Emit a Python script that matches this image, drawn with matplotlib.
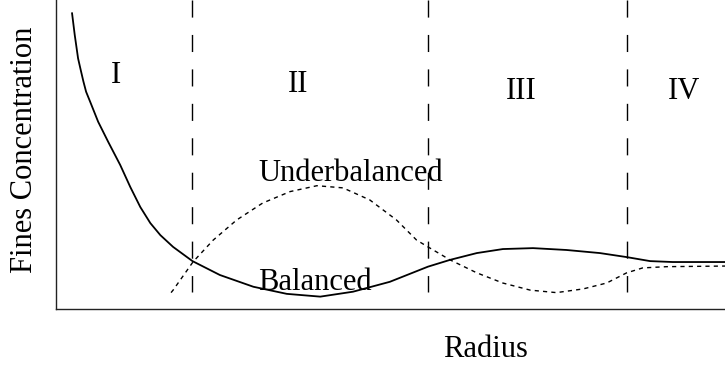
"""Fines concentration vs radius sketch: balanced and underbalanced profiles."""
import matplotlib
matplotlib.use("Agg")
import matplotlib.pyplot as plt

plt.rcParams["font.family"] = ["Liberation Serif", "DejaVu Serif"]

# arbitrary units (radius 0..10, concentration 0..10)
balanced_r = [0.24, 0.28, 0.33, 0.37, 0.41, 0.45, 0.51, 0.63, 0.78, 0.96, 1.11,
              1.26, 1.41, 1.56, 1.75, 2.04, 2.45, 2.95, 3.45, 3.95, 4.44, 4.99,
              5.56, 5.89, 6.29, 6.68, 7.13, 7.63, 8.13, 8.53, 8.88, 9.22, 10.0]
balanced_c = [9.57, 8.87, 8.11, 7.73, 7.36, 7.03, 6.71, 6.06, 5.41, 4.66, 3.95,
              3.30, 2.78, 2.39, 2.01, 1.55, 1.10, 0.72, 0.49, 0.40, 0.56, 0.88,
              1.37, 1.59, 1.81, 1.94, 1.97, 1.91, 1.81, 1.68, 1.55, 1.52, 1.52]

under_r = [1.72, 1.75, 2.05, 2.35, 2.70, 3.09, 3.50, 3.90, 4.29, 4.69, 5.09,
           5.39, 5.56, 5.89, 6.29, 6.68, 7.09, 7.48, 7.88, 8.23, 8.53, 8.77,
           9.13, 10.0]
under_c = [0.53, 0.61, 1.53, 2.23, 2.88, 3.43, 3.80, 3.99, 3.92, 3.53, 2.88,
           2.23, 2.01, 1.59, 1.17, 0.84, 0.61, 0.53, 0.65, 0.84, 1.17, 1.33,
           1.37, 1.39]

boundaries = [2.04, 5.56, 8.53]
region_names = ["I", "II", "III", "IV"]
region_r = [0.90, 3.62, 6.95, 9.39]
region_c = [7.33, 7.03, 6.79, 6.79]

fig = plt.figure(figsize=(7.25, 3.69), dpi=100)
ax = fig.add_axes([56 / 725, 60 / 369, 669 / 725, 309 / 369])

ax.plot(balanced_r, balanced_c, color="black", lw=1.3, solid_joinstyle="round")
ax.plot(under_r, under_c, color="black", lw=1.0, dashes=(3, 3))

for b in boundaries:
    ax.plot([b, b], [10, 0.55], color="black", lw=1.0, dashes=(12.3, 12.5))

for name, r, c in zip(region_names, region_r, region_c):
    ax.text(r, c, name, ha="center", va="baseline", fontsize=22)

ax.text(4.41, 4.15, "Underbalanced", ha="center", va="baseline", fontsize=22)
ax.text(3.02, 0.61, "Balanced", ha="left", va="baseline", fontsize=22)

ax.set_xlim(0, 10)
ax.set_ylim(0, 10)
ax.set_xticks([])
ax.set_yticks([])
for side in ["top", "right"]:
    ax.spines[side].set_visible(False)
for side in ["left", "bottom"]:
    ax.spines[side].set_color("#222")
    ax.spines[side].set_linewidth(1.0)

fig.text(485 / 725, 12 / 369, "Radius", ha="center", va="baseline", fontsize=22)
fig.text(25 / 725, 1 - 150 / 369, "Fines Concentration", ha="center", va="center",
         rotation=90, fontsize=22)

fig.savefig("out.png", dpi=100)
